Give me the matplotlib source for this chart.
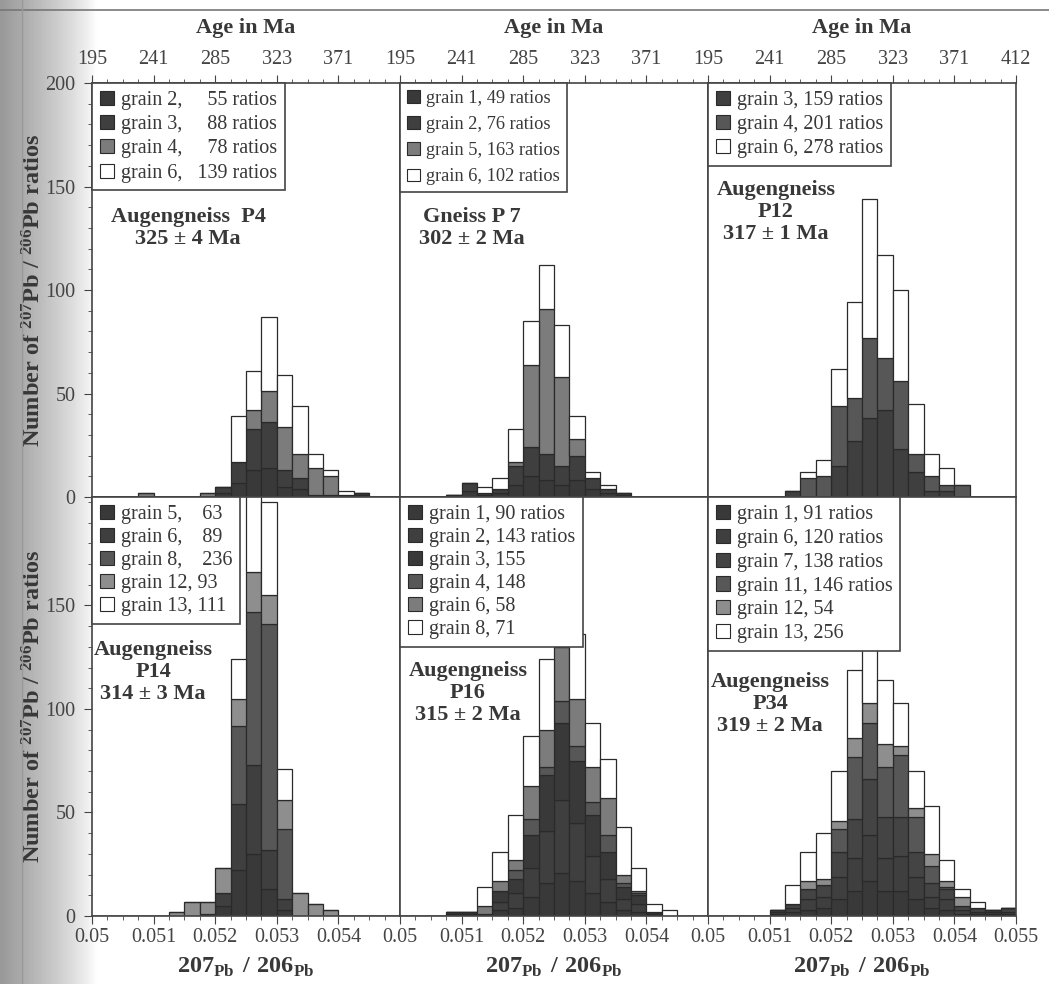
import numpy as np
import matplotlib
matplotlib.use("Agg")
import matplotlib.pyplot as plt
from matplotlib.patches import Patch
from matplotlib.lines import Line2D
from matplotlib.ticker import MultipleLocator

plt.rcParams['font.family'] = ['Liberation Serif', 'DejaVu Serif']
plt.rcParams['mathtext.fontset'] = 'custom'
plt.rcParams['mathtext.rm'] = 'Liberation Serif'
plt.rcParams['mathtext.bf'] = 'Liberation Serif:bold'

# 207Pb/206Pb bins (left edges), width 0.00025
bin_width = 0.00025
ratio_bins = np.round(0.05 + bin_width * np.arange(20), 5)

# ---- P4 (Augengneiss) ----
p4_g2 = [0, 0, 0, 0, 0, 0, 0, 0, 2, 7, 13, 14, 5, 4, 0, 0, 1, 1, 0, 0]
p4_g3 = [0, 0, 0, 0, 0, 0, 0, 0, 3, 10, 20, 22, 8, 5, 1, 1, 0, 1, 0, 0]
p4_g4 = [0, 0, 0, 2, 0, 0, 0, 2, 0, 0, 9, 15, 21, 12, 13, 9, 0, 0, 0, 0]
p4_g6 = [0, 0, 0, 0, 0, 0, 0, 0, 0, 22, 19, 36, 25, 23, 7, 3, 2, 0, 0, 0]

# ---- P 7 (Gneiss) ----
p7_g1 = [0, 0, 0, 1, 3, 1, 2, 6, 10, 8, 6, 8, 4, 2, 1, 0, 0, 0, 0, 0]
p7_g2 = [0, 0, 0, 0, 4, 1, 2, 9, 14, 13, 9, 12, 5, 2, 1, 0, 0, 0, 0, 0]
p7_g5 = [0, 0, 0, 0, 0, 0, 0, 2, 40, 70, 43, 8, 0, 0, 0, 0, 0, 0, 0, 0]
p7_g6 = [0, 0, 0, 0, 0, 3, 5, 16, 21, 21, 25, 11, 3, 2, 0, 0, 0, 0, 0, 0]

# ---- P12 ----
p12_g3 = [0, 0, 0, 0, 0, 3, 0, 0, 15, 27, 38, 42, 23, 12, 3, 3, 0, 0, 0, 0]
p12_g4 = [0, 0, 0, 0, 0, 0, 9, 10, 29, 21, 39, 25, 33, 9, 7, 3, 6, 0, 0, 0]
p12_g6 = [0, 0, 0, 0, 0, 0, 3, 8, 18, 46, 67, 50, 44, 24, 11, 8, 0, 0, 0, 0]

# ---- P14 ----
p14_g5 = [0, 0, 0, 0, 0, 0, 0, 0, 5, 22, 30, 13, 3, 0, 0, 0, 0, 0, 0, 0]
p14_g6 = [0, 0, 0, 0, 0, 0, 0, 1, 6, 32, 43, 19, 5, 0, 0, 0, 0, 0, 0, 0]
p14_g8 = [0, 0, 0, 0, 0, 0, 0, 0, 0, 38, 74, 109, 34, 0, 0, 0, 0, 0, 0, 0]
p14_g12 = [0, 0, 0, 0, 0, 2, 7, 6, 12, 13, 19, 14, 14, 11, 6, 3, 0, 0, 0, 0]
p14_g13 = [0, 0, 0, 0, 0, 0, 0, 0, 0, 19, 44, 45, 15, 0, 0, 0, 0, 0, 0, 0]

# ---- P16 ----
p16_g1 = [0, 0, 0, 0, 1, 0, 3, 4, 9, 16, 21, 17, 11, 7, 3, 2, 1, 0, 0, 0]
p16_g2 = [0, 0, 0, 1, 0, 0, 4, 7, 14, 25, 35, 28, 18, 11, 5, 4, 0, 0, 0, 0]
p16_g3 = [0, 0, 0, 1, 1, 1, 5, 7, 16, 27, 37, 30, 20, 13, 6, 4, 1, 0, 0, 0]
p16_g4 = [0, 0, 0, 0, 0, 0, 0, 4, 8, 4, 11, 7, 6, 8, 2, 1, 0, 0, 0, 0]
p16_g6 = [0, 0, 0, 0, 0, 4, 5, 5, 16, 18, 26, 23, 17, 18, 4, 1, 0, 0, 0, 0]
p16_g8 = [0, 0, 0, 0, 0, 9, 14, 22, 24, 34, 41, 31, 21, 19, 23, 11, 4, 3, 0, 0]

# ---- P34 ----
p34_g1 = [0, 0, 0, 0, 1, 2, 3, 4, 8, 12, 17, 12, 12, 8, 4, 3, 1, 1, 1, 1]
p34_g6 = [0, 0, 0, 0, 1, 2, 5, 5, 11, 16, 22, 16, 17, 11, 5, 5, 2, 1, 1, 1]
p34_g7 = [0, 0, 0, 0, 1, 2, 5, 6, 12, 19, 27, 20, 19, 12, 7, 5, 2, 2, 1, 2]
p34_g11 = [0, 0, 0, 0, 0, 0, 0, 0, 11, 30, 27, 24, 30, 17, 8, 1, 0, 0, 0, 0]
p34_g12 = [0, 0, 0, 0, 0, 0, 4, 3, 4, 9, 10, 11, 4, 4, 6, 3, 4, 0, 0, 0]
p34_g13 = [0, 0, 0, 0, 0, 9, 14, 22, 24, 33, 40, 31, 21, 18, 23, 10, 4, 3, 0, 0]

age_ticks = [0.050, 0.051, 0.052, 0.053, 0.054, 0.055]
age_labels = ['195', '241', '285', '323', '371', '412']
ratio_labels = ['0.05', '0.051', '0.052', '0.053', '0.054', '0.055']

DK1, DK2, DK3 = '#393939', '#3f3f3f', '#444444'
MED, GRY, LGT, WHT = '#575757', '#7c7c7c', '#8e8e8e', '#ffffff'
EDGE = '#2a2a2a'
INK = '#383838'

panels = [
    dict(layers=[p4_g2, p4_g3, p4_g4, p4_g6], colors=[DK1, DK2, GRY, WHT],
         labels=['grain 2,     55 ratios', 'grain 3,     88 ratios', 'grain 4,     78 ratios', 'grain 6,   139 ratios'],
         title=['Augengneiss  P4', '325 \u00b1 4 Ma'], tx=188, ty=228, fs=14.5, ls=0.26),
    dict(layers=[p7_g1, p7_g2, p7_g5, p7_g6], colors=[DK1, DK2, GRY, WHT],
         labels=['grain 1, 49 ratios', 'grain 2, 76 ratios', 'grain 5, 163 ratios', 'grain 6, 102 ratios'],
         title=['Gneiss P 7', '302 \u00b1 2 Ma'], tx=472, ty=228, fs=13.2, ls=0.5),
    dict(layers=[p12_g3, p12_g4, p12_g6], colors=[DK2, MED, WHT],
         labels=['grain 3, 159 ratios', 'grain 4, 201 ratios', 'grain 6, 278 ratios'],
         title=['Augengneiss', 'P12', '317 \u00b1 1 Ma'], tx=776, ty=212, fs=14.5, ls=0.26),
    dict(layers=[p14_g5, p14_g6, p14_g8, p14_g12, p14_g13], colors=[DK1, DK2, MED, LGT, WHT],
         labels=['grain 5,    63', 'grain 6,    89', 'grain 8,    236', 'grain 12, 93', 'grain 13, 111'],
         title=['Augengneiss', 'P14', '314 \u00b1 3 Ma'], tx=153, ty=672, fs=14.5, ls=0.2),
    dict(layers=[p16_g1, p16_g2, p16_g3, p16_g4, p16_g6, p16_g8], colors=[DK1, DK2, DK1, MED, GRY, WHT],
         labels=['grain 1, 90 ratios', 'grain 2, 143 ratios', 'grain 3, 155', 'grain 4, 148', 'grain 6, 58', 'grain 8, 71'],
         title=['Augengneiss', 'P16', '315 \u00b1 2 Ma'], tx=468, ty=693, fs=14.5, ls=0.2),
    dict(layers=[p34_g1, p34_g6, p34_g7, p34_g11, p34_g12, p34_g13], colors=[DK1, DK2, DK3, MED, LGT, WHT],
         labels=['grain 1, 91 ratios', 'grain 6, 120 ratios', 'grain 7, 138 ratios', 'grain 11, 146 ratios', 'grain 12, 54', 'grain 13, 256'],
         title=['Augengneiss', 'P34', '319 \u00b1 2 Ma'], tx=770, ty=704, fs=14.5, ls=0.24),
]

W, H = 1049, 984
fig = plt.figure(figsize=(W / 100, H / 100), dpi=100)

# scanned-page shading on the left
bg = fig.add_axes([0, 0, 1, 1], zorder=-10)
xs = np.linspace(0, 1, 400)
shade = 1 - 0.4 * np.clip(1 - xs * W / 95, 0, 1) ** 0.8
bg.imshow(np.tile(shade, (10, 1)), cmap='gray', vmin=0, vmax=1, aspect='auto', extent=[0, 1, 0, 1])
bg.set_xlim(0, 1)
bg.set_ylim(0, 1)
bg.axis('off')
fig.add_artist(Line2D([0, 1], [1 - 10 / H, 1 - 10 / H], color='#777777', lw=1.2))
fig.add_artist(Line2D([22 / W, 22 / W], [0, 1], color='#999999', lw=1))

col_left = [92, 400, 708]
pw = 308
rows = [(83, 497, 200.0), (497, 916, 202.4)]

for i, p in enumerate(panels):
    r, c = divmod(i, 3)
    top, bot, ymax = rows[r]
    ax = fig.add_axes([col_left[c] / W, 1 - bot / H, pw / W, (bot - top) / H])
    cum = np.zeros(len(ratio_bins))
    for vals, col in zip(p['layers'], p['colors']):
        vals = np.array(vals, dtype=float)
        ax.bar(ratio_bins, vals, width=bin_width, align='edge', bottom=cum,
               color=col, edgecolor=EDGE, linewidth=0.9)
        cum += vals
    ax.set_xlim(0.05, 0.055)
    ax.set_ylim(0, ymax)
    for s in ax.spines.values():
        s.set_color('#444444')
        s.set_linewidth(1.2)

    nt = 6 if c == 2 else 5
    ax.xaxis.set_minor_locator(MultipleLocator(bin_width))
    ax.tick_params(axis='both', which='both', colors='#444444', labelsize=14.5,
                   direction='out', labelcolor='#444444')
    ax.tick_params(which='major', length=6)
    ax.tick_params(which='minor', length=3)
    if r == 0:
        ax.xaxis.tick_top()
        ax.set_xticks(age_ticks[:nt])
        ax.set_xticklabels(age_labels[:nt])
        ax.tick_params(axis='x', pad=4)
        ax.xaxis.set_label_position('top')
        ax.set_xlabel('Age in Ma', fontsize=16, fontweight='bold', color=INK, labelpad=12)
    else:
        ax.set_xticks(age_ticks[:nt])
        ax.set_xticklabels(ratio_labels[:nt])
        ax.tick_params(axis='x', pad=3)
        ax.set_xlabel(r'$\mathbf{207}_{\mathbf{Pb}}\ \mathbf{/}\ \mathbf{206}_{\mathbf{Pb}}$',
                      fontsize=17.5, color=INK, labelpad=6)
    if c == 0:
        ax.set_yticks([0, 50, 100, 150, 200] if r == 0 else [0, 50, 100, 150])
        ax.yaxis.set_minor_locator(MultipleLocator(10))
        ax.tick_params(axis='y', pad=6)
        ax.set_ylabel(r'Number of $\mathbf{^{207}}$Pb / $\mathbf{^{206}}$Pb ratios',
                      fontsize=17.5, fontweight='bold', color=INK, labelpad=0)
    else:
        ax.set_yticks([])
        ax.tick_params(axis='y', which='both', left=False)

    handles = [Patch(facecolor=col, edgecolor=EDGE, linewidth=0.8) for col in p['colors']]
    leg = ax.legend(handles, p['labels'], loc='upper left', bbox_to_anchor=(0, 1),
                    borderaxespad=0, fancybox=False, framealpha=1, edgecolor='#444444',
                    handlelength=0.7, handleheight=0.7, handletextpad=0.35,
                    labelspacing=p['ls'], borderpad=0.38, fontsize=p['fs'])
    leg.get_frame().set_linewidth(1.2)
    for t in leg.get_texts():
        t.set_color(INK)

    fig.text(p['tx'] / W, 1 - p['ty'] / H, '\n'.join(p['title']), ha='center', va='center',
             fontsize=16, fontweight='bold', color=INK, linespacing=1.15,
             multialignment='center')

fig.savefig('out.png', dpi=100)
